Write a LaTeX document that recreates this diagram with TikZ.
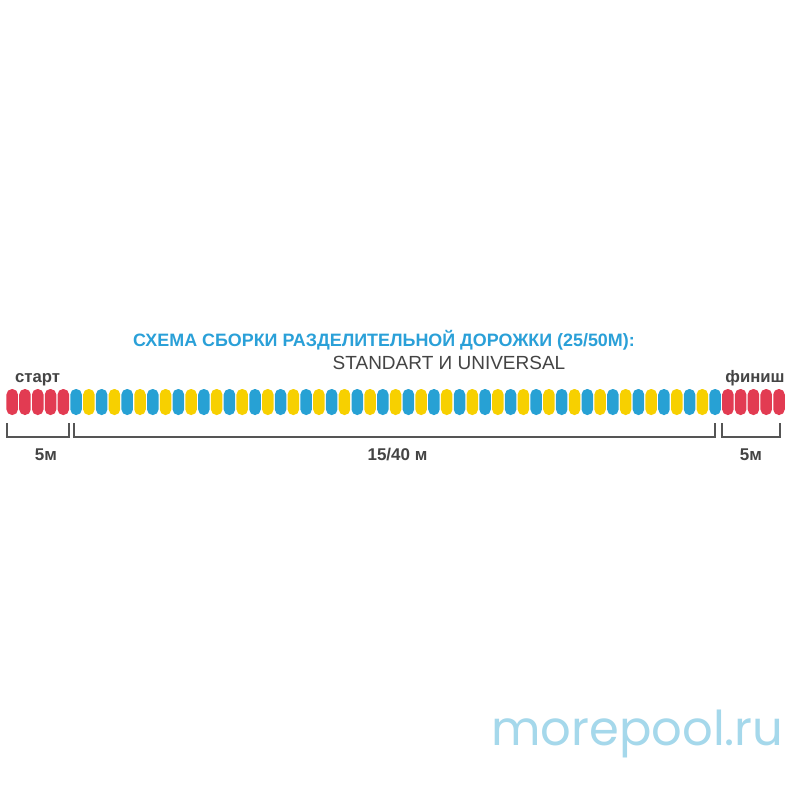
\documentclass[tikz,border=0pt]{standalone}
\usepackage{fontspec}
\setmainfont{Liberation Sans}
\newfontfamily\logofont{Poppins}
\definecolor{fred}{RGB}{226,59,82}
\definecolor{fblue}{RGB}{39,161,212}
\definecolor{fyellow}{RGB}{247,208,0}
\definecolor{titleblue}{RGB}{42,160,216}
\definecolor{txtgray}{RGB}{68,68,68}
\definecolor{brgray}{RGB}{85,85,85}
\definecolor{logoblue}{RGB}{165,216,235}
\begin{document}
\begin{tikzpicture}[x=1pt,y=-1pt,
  floatbox/.style={minimum width=11.5pt, minimum height=26pt, rounded corners=5.5pt, inner sep=0pt, draw=none},
  bracketline/.style={draw=brgray, line width=2pt},
  lab/.style={anchor=base, text=txtgray, font=\fontsize{17}{20}\selectfont\bfseries, inner sep=0pt},
  endlab/.style={anchor=base, text=txtgray, font=\fontsize{16.7}{19}\selectfont\bfseries, inner sep=0pt}]
\useasboundingbox (0,0) rectangle (800,800);
\fill[white] (0,0) rectangle (800,800);
\foreach \i in {0,...,60}{
  \ifnum\i<5 \def\fc{fred}\else\ifnum\i>55 \def\fc{fred}\else\ifodd\i \def\fc{fblue}\else\def\fc{fyellow}\fi\fi\fi
  \node[floatbox, fill=\fc] (f\i) at ({12.2+\i*12.78}, 402) {};
}
\node[anchor=base, text=titleblue, font=\fontsize{17.9}{21}\selectfont\bfseries, inner sep=0pt] (title) at (384,346) {СХЕМА СБОРКИ РАЗДЕЛИТЕЛЬНОЙ ДОРОЖКИ (25/50М):};
\node[anchor=base, text=txtgray, font=\fontsize{19}{22}\selectfont, inner sep=0pt] (sub) at (449,369.5) {STANDART И UNIVERSAL};
\node[endlab] (start) at (37.5,382) {старт};
\node[endlab] (finish) at (755,382) {финиш};
\coordinate (b1a) at (6.5,423); \coordinate (b1b) at (68.5,423);
\coordinate (b2a) at (73.5,423); \coordinate (b2b) at (714.5,423);
\coordinate (b3a) at (721.5,423); \coordinate (b3b) at (780,423);
\draw[bracketline] (b1a) -- ++(0,14) -| (b1b);
\draw[bracketline] (b2a) -- ++(0,14) -| (b2b);
\draw[bracketline] (b3a) -- ++(0,14) -| (b3b);
\node[lab] (l1) at (46,460) {5м};
\node[lab] (l2) at (397.5,460) {15/40 м};
\node[lab] (l3) at (751,460) {5м};
\node[anchor=base, text=logoblue, font=\logofont\fontsize{48}{52}\selectfont, inner sep=0pt] (logo) at (637.5,745) {morepool.ru};
\end{tikzpicture}
\end{document}
